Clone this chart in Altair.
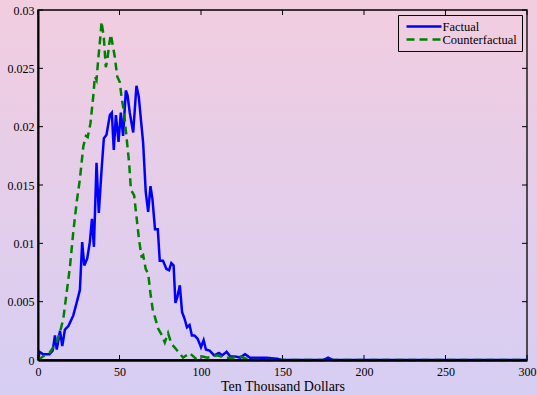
import altair as alt
import pandas as pd

# Factual series (x: ten thousand dollars, y: density)
fx = [0, 1, 3, 7, 9, 10.4, 11.5, 13.5, 14.9, 16.5, 18.6, 21.6, 23.7, 25.7, 27.1, 28.4, 30.2,
      31.8, 33.1, 34.3, 35.9, 37.3, 39, 40.4, 42, 44.1, 45.3, 46.5, 47.8, 49.4, 50.8, 52.2,
      53.9, 54.9, 56.3, 58.4, 60.4, 61.8, 64.5, 66.1, 67.6, 69, 70.2, 71.8, 73.5, 74.7, 76.7,
      78.8, 80.4, 81.8, 83.2, 84.3, 85.5, 87, 88.4, 90, 91.4, 93, 94.4, 96, 98, 100, 101.6,
      103, 105.3, 108, 111, 113, 115.7, 118, 121, 124, 127, 130, 134, 140, 147, 150, 160,
      175, 178, 181, 200, 250, 300]
fy = [0, 0.0007, 0.0005, 0.0005, 0.0008, 0.0021, 0.0009, 0.0025, 0.0012, 0.0026, 0.0029,
      0.0038, 0.0049, 0.0060, 0.0101, 0.0081, 0.0087, 0.0101, 0.0121, 0.0097, 0.0169, 0.0126,
      0.0163, 0.0190, 0.0193, 0.0210, 0.0212, 0.0180, 0.0210, 0.0187, 0.0212, 0.0192, 0.0231,
      0.0227, 0.0212, 0.0195, 0.0235, 0.0226, 0.0186, 0.0144, 0.0127, 0.0149, 0.0138, 0.0112,
      0.0112, 0.0085, 0.0085, 0.0078, 0.0077, 0.0083, 0.0081, 0.0049, 0.0054, 0.0064, 0.0041,
      0.0035, 0.0028, 0.0030, 0.0021, 0.0021, 0.0018, 0.0011, 0.0017, 0.0009, 0.0008, 0.0004,
      0.0006, 0.0004, 0.0007, 0.0003, 0.0003, 0.0002, 0.0005, 0.0002, 0.0002, 0.0002, 0.0001,
      0.0, 0.0, 0.0, 0.0002, 0.0, 0.0, 0.0, 0.0]

# Counterfactual series
cx = [0, 3, 7, 11.4, 13.5, 15.5, 17.6, 19.6, 21.6, 23.7, 25.7, 27.8, 29.4, 30.5, 32.2, 33.9,
      34.9, 35.9, 36.9, 38.4, 39, 40.4, 41.6, 42.5, 43.7, 44.7, 45.7, 47.1, 48.6, 50.2, 51.2,
      52.9, 54.3, 55.9, 57, 59, 60.4, 62, 63.5, 64.5, 66.1, 67.6, 69, 70.6, 71.7, 73.7, 75.7,
      77.8, 79.8, 81.8, 84.9, 89, 93, 97, 101, 104, 110, 115, 119.5, 124, 130, 150, 200, 250, 300]
cy = [0, 0.0003, 0.0006, 0.0015, 0.0024, 0.0035, 0.0058, 0.0080, 0.0109, 0.0135, 0.0155,
      0.0183, 0.0192, 0.0191, 0.0203, 0.0226, 0.0243, 0.0240, 0.0257, 0.0279, 0.0290, 0.0276,
      0.0251, 0.0257, 0.0271, 0.0279, 0.0271, 0.0260, 0.0243, 0.0238, 0.0226, 0.0211, 0.0191,
      0.0169, 0.0146, 0.0141, 0.0123, 0.0103, 0.0089, 0.0090, 0.0078, 0.0074, 0.0057, 0.0041,
      0.0037, 0.0027, 0.0022, 0.0015, 0.0023, 0.0014, 0.0009, 0.0002, 0.0006, 0.0001, 0.0003,
      0.0002, 0.0004, 0.0002, 0.0002, 0.0003, 0.0, 0.0, 0.0, 0.0, 0.0]

x_ticks = [0, 50, 100, 150, 200, 250, 300]
y_ticks = [0, 0.005, 0.01, 0.015, 0.02, 0.025, 0.03]
series_names = ["Factual", "Counterfactual"]
series_colors = ["#0000ff", "#008000"]
series_dash = [[1, 0], [8, 5]]

assert len(fx) == len(fy) and len(cx) == len(cy)

rows = [{"x": a, "y": b, "series": "Factual"} for a, b in zip(fx, fy)]
rows += [{"x": a, "y": b, "series": "Counterfactual"} for a, b in zip(cx, cy)]
df = pd.DataFrame(rows)

W, H = 489, 350
FONT = "Liberation Serif"

xs = alt.Scale(domain=[0, 300], nice=False, zero=False)
ys = alt.Scale(domain=[0, 0.03], nice=False)

x_axis = alt.Axis(
    orient="bottom", values=x_ticks, title="Ten Thousand Dollars", ticks=False,
    grid=False, domainColor="black", domainWidth=2.5, labelFont=FONT, zindex=1,
    labelFontSize=12, labelColor="black", labelPadding=6, labelFlush=False,
    labelOverlap=False, titleFont=FONT, titleFontSize=14, titleFontWeight="normal",
    titleColor="black", titlePadding=2)
y_axis = alt.Axis(
    orient="left", values=y_ticks, format="~g", title=None, ticks=False, grid=False,
    domainColor="black", domainWidth=2, labelFont=FONT, labelFontSize=12, zindex=1,
    labelColor="black", labelPadding=4, labelFlush=False, labelOverlap=False)

bg = alt.Chart(alt.Data(values=[{}])).mark_rect(
    color=alt.LinearGradient(
        gradient="linear",
        stops=[alt.GradientStop(color="#f2cde0", offset=0),
               alt.GradientStop(color="#d6cef3", offset=1)],
        x1=0, x2=0, y1=0, y2=1),
).encode(x=alt.value(-38), x2=alt.value(W + 10), y=alt.value(-10), y2=alt.value(H + 35))

frame = alt.Chart(alt.Data(values=[{}])).mark_rect(
    fill=None, fillOpacity=0, stroke="black", strokeWidth=1.3,
).encode(x=alt.value(0), x2=alt.value(W), y=alt.value(0), y2=alt.value(H))

leg = alt.Legend(
    orient="none", legendX=360, legendY=5, title=None,
    strokeColor="black", padding=5, labelFont=FONT, labelFontSize=12.5,
    labelColor="black", symbolType="M-3.5,0L3.5,0", symbolSize=100,
    symbolOffset=14.5, symbolStrokeWidth=2.5, labelOffset=12, rowPadding=0,
)

lines = alt.Chart(df).mark_line(strokeWidth=2.5).encode(
    x=alt.X("x:Q", scale=xs, axis=x_axis),
    y=alt.Y("y:Q", scale=ys, axis=y_axis),
    color=alt.Color("series:N", scale=alt.Scale(domain=series_names, range=series_colors),
                    sort=series_names, legend=leg),
    strokeDash=alt.StrokeDash("series:N", scale=alt.Scale(domain=series_names, range=series_dash),
                              sort=series_names, legend=leg),
)

xt = pd.DataFrame({"v": x_ticks})
yt = pd.DataFrame({"v": y_ticks})
bottom_ticks = alt.Chart(xt).mark_rule(color="black", strokeWidth=1).encode(
    x=alt.X("v:Q", scale=xs, axis=x_axis), y=alt.value(H), y2=alt.value(H - 5))
top_ticks = alt.Chart(xt).mark_rule(color="black", strokeWidth=1).encode(
    x=alt.X("v:Q", scale=xs, axis=x_axis), y=alt.value(0), y2=alt.value(5))
left_ticks = alt.Chart(yt).mark_rule(color="black", strokeWidth=1).encode(
    y=alt.Y("v:Q", scale=ys, axis=y_axis), x=alt.value(0), x2=alt.value(5))
right_ticks = alt.Chart(yt).mark_rule(color="black", strokeWidth=1).encode(
    y=alt.Y("v:Q", scale=ys, axis=y_axis), x=alt.value(W - 5), x2=alt.value(W))

chart = alt.layer(bg, frame, bottom_ticks, top_ticks, left_ticks, right_ticks, lines).properties(
    width=W, height=H,
    padding={"left": 38, "top": 10, "right": 10, "bottom": 35},
    autosize=alt.AutoSizeParams(type="none"),
    background="#e4cde9",
).configure_view(stroke=None)

chart.save("out.html", embed_options={"renderer": "svg", "actions": False})
